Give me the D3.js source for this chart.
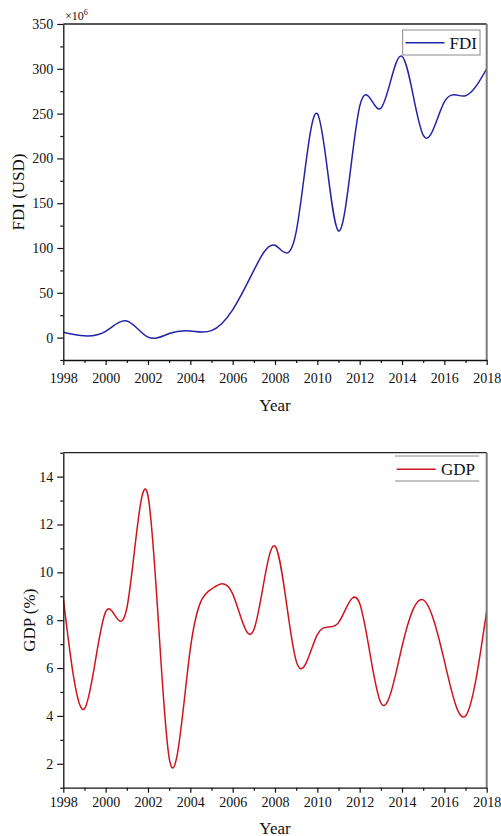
<!DOCTYPE html>
<html>
<head>
<meta charset="utf-8">
<script src="https://cdn.jsdelivr.net/npm/d3@7"></script>
<style>
  html, body { margin: 0; padding: 0; background: #fff; }
  svg { display: block; }
  svg text { font-family: "Liberation Serif", "Times New Roman", serif !important; fill: #111; }
</style>
</head>
<body>
<script>
const years = [1998, 1999, 2000, 2001, 2002, 2003, 2004, 2005, 2006, 2007, 2008,
               2009, 2010, 2011, 2012, 2013, 2014, 2015, 2016, 2017, 2018];
const fdiValues = [6, 2, 7, 18.5, 0.5, 4.5, 7.4, 7.8, 31, 75, 103,
                   118, 250, 119, 258, 256, 314, 226, 263, 270, 300];
const gdpValues = [8.9, 4.3, 8.35, 8.5, 13.2, 2.25, 6.8, 9.3, 9.1, 7.6, 11.1,
                   6.3, 7.4, 7.9, 8.7, 4.55, 6.9, 8.85, 6.3, 4.0, 8.4];
const xMajorTicks = [1998, 2000, 2002, 2004, 2006, 2008, 2010, 2012, 2014, 2016, 2018];
const xMinorTicks = [1999, 2001, 2003, 2005, 2007, 2009, 2011, 2013, 2015, 2017];
const fdiMajorTicks = [0, 50, 100, 150, 200, 250, 300, 350];
const fdiMinorTicks = [-25, 25, 75, 125, 175, 225, 275, 325];
const gdpMajorTicks = [2, 4, 6, 8, 10, 12, 14];
const gdpMinorTicks = [1, 3, 5, 7, 9, 11, 13, 15];

const SERIF = "Liberation Serif, Times New Roman, serif";
const W = 501, H = 836;
const svg = d3.select("body").append("svg").attr("width", W).attr("height", H)
  .attr("font-family", SERIF);

function panel(cfg) {
  const g = svg.append("g");
  const x = d3.scaleLinear().domain([1998, 2018]).range([cfg.left, cfg.right]);
  const y = d3.scaleLinear().domain(cfg.yDomain).range([cfg.bottom, cfg.top]);

  const cid = "clip-" + cfg.name;
  svg.append("clipPath").attr("id", cid).append("rect")
    .attr("x", cfg.left).attr("y", cfg.top)
    .attr("width", cfg.right - cfg.left).attr("height", cfg.bottom - cfg.top);

  const line = d3.line().x((d, i) => x(years[i])).y(d => y(d)).curve(d3.curveNatural);
  g.append("path").datum(cfg.values)
    .attr("clip-path", `url(#${cid})`)
    .attr("d", line).attr("fill", "none")
    .attr("stroke", cfg.color).attr("stroke-width", 1.5);

  g.append("line").attr("x1", cfg.left).attr("x2", cfg.right)
    .attr("y1", cfg.top).attr("y2", cfg.top).attr("stroke", "#222").attr("stroke-width", 1.3);
  g.append("line").attr("x1", cfg.right).attr("x2", cfg.right)
    .attr("y1", cfg.top).attr("y2", cfg.bottom).attr("stroke", "#7a7a7a").attr("stroke-width", 2);

  const xa = g.append("g").attr("transform", `translate(0,${cfg.bottom})`)
    .call(d3.axisBottom(x).tickValues(xMajorTicks).tickFormat(d3.format("d"))
      .tickSize(5).tickSizeOuter(0).tickPadding(cfg.xPad));
  const xm = g.append("g").attr("transform", `translate(0,${cfg.bottom})`)
    .call(d3.axisBottom(x).tickValues(xMinorTicks).tickFormat("").tickSize(3).tickSizeOuter(0));
  xm.select(".domain").remove();

  const ya = g.append("g").attr("transform", `translate(${cfg.left},0)`)
    .call(d3.axisLeft(y).tickValues(cfg.major).tickFormat(d3.format("d"))
      .tickSize(6).tickSizeOuter(0).tickPadding(4));
  const ym = g.append("g").attr("transform", `translate(${cfg.left},0)`)
    .call(d3.axisLeft(y).tickValues(cfg.minor).tickFormat("").tickSize(3).tickSizeOuter(0));
  ym.select(".domain").remove();

  [xa, ya, xm, ym].forEach(a => {
    a.attr("font-family", SERIF).attr("font-size", 14);
    a.selectAll("path.domain").attr("stroke", "#111").attr("stroke-width", 1.3);
    a.selectAll(".tick line").attr("stroke", "#111").attr("stroke-width", 1.2);
    a.selectAll(".tick text").attr("font-family", SERIF).attr("font-size", 14).attr("fill", "#111");
  });

  g.append("text").attr("x", (cfg.left + cfg.right) / 2).attr("y", cfg.xTitleY)
    .attr("text-anchor", "middle").attr("dominant-baseline", "central")
    .style("font-size", "17px").text("Year");
  g.append("text")
    .attr("transform", `translate(${cfg.yTitleX},${(cfg.top + cfg.bottom) / 2}) rotate(-90)`)
    .attr("text-anchor", "middle").attr("dominant-baseline", "central")
    .style("font-size", "17px").text(cfg.yTitle);

  return { g, x, y };
}

const p1 = panel({
  name: "fdi", left: 63.3, right: 486.7, top: 24, bottom: 360,
  yDomain: [-25, 350], values: fdiValues, color: "#2323a8",
  major: fdiMajorTicks, minor: fdiMinorTicks, xPad: 8,
  xTitleY: 405, yTitleX: 18, yTitle: "FDI (USD)"
});
const mult = p1.g.append("text").attr("x", 65).attr("y", 20).style("font-size", "12px");
mult.append("tspan").text("\u00d710");
mult.append("tspan").attr("dy", -5).style("font-size", "8px").text("6");

p1.g.append("rect").attr("x", 402.7).attr("y", 30).attr("width", 77.3).attr("height", 25)
  .attr("fill", "#fff").attr("stroke", "#8a8a8a").attr("stroke-width", 1);
p1.g.append("line").attr("x1", 405.5).attr("x2", 444.5).attr("y1", 42.7).attr("y2", 42.7)
  .attr("stroke", "#2323a8").attr("stroke-width", 1.5);
p1.g.append("text").attr("x", 449.5).attr("y", 43).attr("dominant-baseline", "central")
  .style("font-size", "17px").text("FDI");

const p2 = panel({
  name: "gdp", left: 63.3, right: 486.7, top: 452.7, bottom: 787.7,
  yDomain: [1, 15], values: gdpValues, color: "#d0141e",
  major: gdpMajorTicks, minor: gdpMinorTicks, xPad: 4,
  xTitleY: 828, yTitleX: 29, yTitle: "GDP (%)"
});
p2.g.append("line").attr("x1", 395).attr("x2", 479.3).attr("y1", 456).attr("y2", 456)
  .attr("stroke", "#8a8a8a").attr("stroke-width", 1.2);
p2.g.append("line").attr("x1", 395).attr("x2", 479.3).attr("y1", 481).attr("y2", 481)
  .attr("stroke", "#8a8a8a").attr("stroke-width", 1.2);
p2.g.append("line").attr("x1", 396.7).attr("x2", 435.7).attr("y1", 469.3).attr("y2", 469.3)
  .attr("stroke", "#d0141e").attr("stroke-width", 1.5);
p2.g.append("text").attr("x", 441).attr("y", 469.5).attr("dominant-baseline", "central")
  .style("font-size", "17px").text("GDP");
</script>
</body>
</html>
